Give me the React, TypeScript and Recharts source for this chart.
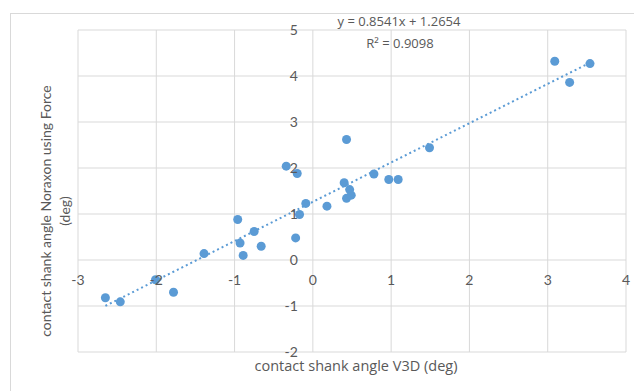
import {
  ScatterChart,
  Scatter,
  XAxis,
  YAxis,
  CartesianGrid,
  ReferenceDot,
  ReferenceLine,
} from 'recharts'

// contact shank angle V3D (deg)
const v3dAngle = [
  -2.65, -2.46, -2.01, -1.78, -1.39, -0.96, -0.93, -0.89, -0.75, -0.66,
  -0.34, -0.22, -0.2, -0.17, -0.09, 0.18, 0.4, 0.43, 0.43, 0.47,
  0.49, 0.78, 0.97, 1.09, 1.49, 3.09, 3.28, 3.54,
]
// contact shank angle Noraxon using Force (deg)
const noraxonAngle = [
  -0.82, -0.91, -0.43, -0.7, 0.14, 0.88, 0.37, 0.1, 0.62, 0.3,
  2.04, 0.48, 1.88, 0.99, 1.23, 1.17, 1.68, 1.34, 2.62, 1.53,
  1.41, 1.87, 1.75, 1.75, 2.44, 4.32, 3.86, 4.27,
]
const xTicks = [-3, -2, -1, 0, 1, 2, 3, 4]
const yTicks = [-2, -1, 0, 1, 2, 3, 4, 5]
const slope = 0.8541
const intercept = 1.2654
const rSquared = 0.9098

const BLUE = '#5B9BD5'
const GRID = '#d9d9d9'
const TEXT = '#595959'
const FONT = 'Lato, "Open Sans", sans-serif'
const LABEL_FONT = '"Open Sans", Lato, sans-serif'

const points = v3dAngle.map((x, i) => ({ x, y: noraxonAngle[i] }))
const xMin = Math.min(...v3dAngle)
const xMax = Math.max(...v3dAngle)

export default function App() {
  return (
    <div
      style={{
        position: 'absolute',
        left: 0,
        top: 0,
        width: 634,
        height: 391,
        overflow: 'hidden',
        background: '#fff',
        fontFamily: FONT,
      }}
    >
      <div
        style={{
          position: 'absolute',
          left: 10,
          top: 13,
          width: 660,
          height: 420,
          border: `1px solid ${GRID}`,
        }}
      />
      <div style={{ position: 'absolute', left: 0, top: 0 }}>
        <ScatterChart
          width={634}
          height={391}
          margin={{ top: 30, right: 8, bottom: 39, left: 78 }}
        >
          <CartesianGrid stroke={GRID} strokeWidth={1} />
          <XAxis
            type="number"
            dataKey="x"
            domain={[-3, 4]}
            ticks={xTicks}
            hide
          />
          <YAxis
            type="number"
            dataKey="y"
            domain={[-2, 5]}
            ticks={yTicks}
            hide
          />
          <ReferenceLine
            segment={[
              { x: xMin, y: slope * xMin + intercept },
              { x: xMax, y: slope * xMax + intercept },
            ]}
            stroke={BLUE}
            strokeWidth={2}
            strokeDasharray="2 3"
          />
          {xTicks.map((t) => (
            <ReferenceDot
              key={'x' + t}
              x={t}
              y={0}
              r={0}
              stroke="none"
              fill="none"
              label={{
                value: String(t),
                position: 'bottom',
                offset: 15,
                fill: TEXT,
                fontSize: 14,
                fontFamily: FONT,
              }}
            />
          ))}
          {yTicks.map((t) => (
            <ReferenceDot
              key={'y' + t}
              x={0}
              y={t}
              r={0}
              stroke="none"
              fill="none"
              label={{
                value: String(t),
                position: 'left',
                offset: 15,
                fill: TEXT,
                fontSize: 14,
                fontFamily: FONT,
              }}
            />
          ))}
          <Scatter
            data={points}
            fill={BLUE}
            shape={(p: any) => <circle cx={p.cx} cy={p.cy} r={4.5} fill={BLUE} />}
            isAnimationActive={false}
          />
        </ScatterChart>
      </div>
      {/* trendline label */}
      <div
        style={{
          position: 'absolute',
          left: 299,
          top: 12,
          width: 200,
          textAlign: 'center',
          color: TEXT,
          fontSize: 13,
          fontFamily: LABEL_FONT,
          lineHeight: '18px',
          whiteSpace: 'nowrap',
        }}
      >
        y = {slope}x + {intercept}
      </div>
      <div
        style={{
          position: 'absolute',
          left: 300,
          top: 34,
          width: 200,
          textAlign: 'center',
          color: TEXT,
          fontSize: 13,
          fontFamily: LABEL_FONT,
          lineHeight: '18px',
        }}
      >
        R² = {rSquared}
      </div>
      {/* axis titles */}
      <div
        style={{
          position: 'absolute',
          left: 206,
          top: 357,
          width: 300,
          textAlign: 'center',
          color: TEXT,
          fontSize: 14.5,
          fontFamily: LABEL_FONT,
          lineHeight: '18px',
          whiteSpace: 'nowrap',
        }}
      >
        contact shank angle V3D (deg)
      </div>
      <div
        style={{
          position: 'absolute',
          left: 56 - 180,
          top: 191,
          width: 360,
          height: 40,
          transform: 'rotate(-90deg)',
          textAlign: 'center',
          color: TEXT,
          fontSize: 14,
          lineHeight: '19px',
        }}
      >
        contact shank angle Noraxon using Force
        <br />
        (deg)
      </div>
    </div>
  )
}
